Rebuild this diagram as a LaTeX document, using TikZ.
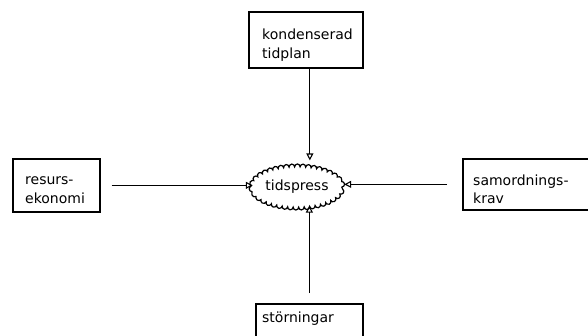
\documentclass[tikz,border=0pt]{standalone}
\usepackage{fontspec}
\setmainfont{DejaVu Sans}
\usetikzlibrary{arrows.meta,shapes.geometric,decorations.pathmorphing}
\begin{document}
\begin{tikzpicture}[x=1pt,y=-1pt,
  box/.style={draw, line width=1.7pt, inner sep=0pt, anchor=north west},
  lbl/.style={inner sep=0pt, anchor=base west, font=\fontsize{14}{17}\selectfont},
  arr/.style={line width=1.1pt, -{Triangle[open, length=7pt, width=7pt, line width=1.1pt]}},
  cloud/.style={ellipse, draw, line width=1.2pt, minimum width=82pt, minimum height=40pt, inner sep=0pt,
    decorate, decoration={bumps, mirror, segment length=11pt, amplitude=3pt},
    font=\fontsize{14}{17}\selectfont}
]
\useasboundingbox (0,0) rectangle (588,335);
\clip (0,0) rectangle (588,335);
\fill[white] (0,0) rectangle (588,335);
% boxes
\node[box, minimum width=114pt, minimum height=56pt] (top) at (248,11) {};
\node[lbl] (toplbla) at (262,39) {kondenserad};
\node[lbl] (toplblb) at (262,58) {tidplan};
\node[box, minimum width=87pt, minimum height=53pt] (left) at (12,158) {};
\node[lbl] (leftlbla) at (25,184) {resurs-};
\node[lbl] (leftlblb) at (25,203) {ekonomi};
\node[box, minimum width=150pt, minimum height=51pt] (right) at (462,158) {};
\node[lbl] (rightlbla) at (473,185) {samordnings-};
\node[lbl] (rightlblb) at (473,203) {krav};
\node[box, minimum width=107pt, minimum height=50pt] (bottom) at (255,303) {};
\node[lbl] (bottomlbl) at (262,322) {störningar};
% cloud
\node[cloud] (press) at (297,187) {tidspress};
% arrows
\draw[arr, shorten >=6pt] ([xshift=4pt]top.south) -- ([xshift=4pt]top.south |- press.north);
\draw[arr, shorten <=10pt, shorten >=-2pt] (bottom.north) -- (bottom.north |- press.south);
\draw[arr, shorten <=11pt, shorten >=-1pt] (left.east) -- (left.east -| press.west);
\draw[arr, shorten <=15pt, shorten >=2pt] (right.west) -- (right.west -| press.east);
\end{tikzpicture}
\end{document}
